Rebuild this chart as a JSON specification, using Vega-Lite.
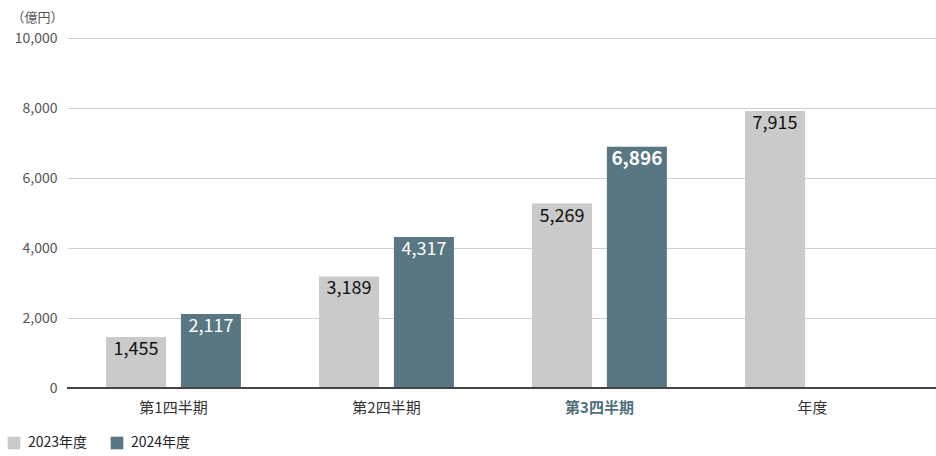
{
  "$schema": "https://vega.github.io/schema/vega-lite/v6.json",
  "width": 869,
  "height": 350,
  "autosize": {"type": "none"},
  "padding": {"left": 67, "top": 38, "right": 0, "bottom": 68},
  "background": "#ffffff",
  "config": {
    "font": "Noto Sans CJK JP",
    "view": {"stroke": null},
    "axis": {"labelFont": "Noto Sans CJK JP", "titleFont": "Noto Sans CJK JP"}
  },
  "data": {
    "values": [
      {"period": "第1四半期", "year": "2023年度", "value": 1455},
      {"period": "第1四半期", "year": "2024年度", "value": 2117},
      {"period": "第2四半期", "year": "2023年度", "value": 3189},
      {"period": "第2四半期", "year": "2024年度", "value": 4317},
      {"period": "第3四半期", "year": "2023年度", "value": 5269},
      {"period": "第3四半期", "year": "2024年度", "value": 6896},
      {"period": "年度", "year": "2023年度", "value": 7915}
    ]
  },
  "encoding": {
    "x": {
      "field": "period",
      "type": "nominal",
      "sort": ["第1四半期", "第2四半期", "第3四半期", "年度"],
      "scale": {"paddingInner": 0, "paddingOuter": 0.04, "align": 0},
      "axis": {
        "title": null,
        "labelAngle": 0,
        "labelFontSize": 15,
        "labelPadding": 12,
        "labelColor": {"condition": {"test": "datum.value === '第3四半期'", "value": "#4f6f7b"}, "value": "#333333"},
        "labelFontWeight": {"condition": {"test": "datum.value === '第3四半期'", "value": "bold"}, "value": "normal"},
        "ticks": false,
        "domain": false,
        "grid": false
      }
    },
    "xOffset": {
      "field": "year",
      "type": "nominal",
      "scale": {"domain": ["2023年度", "2024年度"], "paddingInner": 0.2, "paddingOuter": 0.523}
    },
    "y": {
      "field": "value",
      "type": "quantitative",
      "scale": {"domain": [0, 10000]},
      "axis": {
        "values": [0, 2000, 4000, 6000, 8000, 10000],
        "format": ",.0f",
        "title": "（億円）",
        "titleAngle": 0,
        "titleAlign": "center",
        "titleBaseline": "middle",
        "titleX": -30,
        "titleY": -21,
        "titleFontSize": 13,
        "titleFontWeight": "normal",
        "titleColor": "#555555",
        "labelFontSize": 14,
        "labelColor": "#555555",
        "labelPadding": 10,
        "ticks": false,
        "domain": false,
        "grid": true,
        "gridColor": "#d0d0d0",
        "gridWidth": 1
      }
    }
  },
  "layer": [
    {
      "mark": {"type": "bar", "width": 60},
      "encoding": {
        "color": {
          "field": "year",
          "type": "nominal",
          "scale": {"domain": ["2023年度", "2024年度"], "range": ["#cacaca", "#587782"]},
          "legend": {
            "title": null,
            "orient": "none",
            "direction": "horizontal",
            "legendX": -60,
            "legendY": 398,
            "symbolType": "square",
            "symbolSize": 160,
            "symbolStrokeWidth": 0,
            "symbolOpacity": 1,
            "labelFontSize": 14,
            "labelColor": "#222222",
            "columnPadding": 22,
            "labelOffset": 7
          }
        }
      }
    },
    {
      "mark": {"type": "rule", "color": "#444444", "strokeWidth": 2},
      "encoding": {"y": {"datum": 0}, "x": {"value": 0}, "x2": {"value": 869}, "xOffset": null}
    },
    {
      "transform": [{"filter": "datum.year === '2023年度'"}],
      "mark": {"type": "text", "baseline": "top", "dy": 4, "fontSize": 18, "color": "#111111"},
      "encoding": {"text": {"field": "value", "type": "quantitative", "format": ","}}
    },
    {
      "transform": [{"filter": "datum.year === '2024年度' && datum.period !== '第3四半期'"}],
      "mark": {"type": "text", "baseline": "top", "dy": 4, "fontSize": 18, "color": "#ffffff"},
      "encoding": {"text": {"field": "value", "type": "quantitative", "format": ","}}
    },
    {
      "transform": [{"filter": "datum.year === '2024年度' && datum.period === '第3四半期'"}],
      "mark": {"type": "text", "baseline": "top", "dy": 3, "fontSize": 19, "fontWeight": "bold", "color": "#ffffff"},
      "encoding": {"text": {"field": "value", "type": "quantitative", "format": ","}}
    }
  ]
}
